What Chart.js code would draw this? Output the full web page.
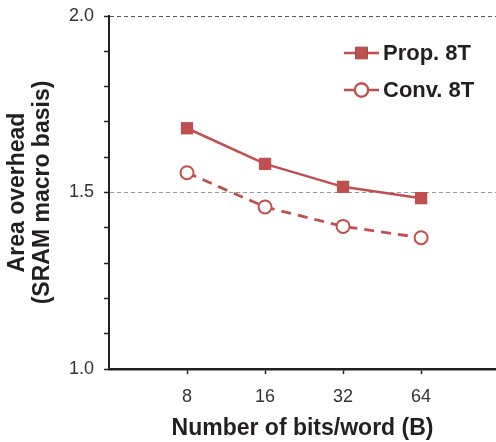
<!DOCTYPE html>
<html>
<head>
<meta charset="utf-8">
<script src="https://cdn.jsdelivr.net/npm/chart.js@4.4.0/dist/chart.umd.min.js"></script>
<style>
  html, body { margin: 0; padding: 0; background: #fff; }
  canvas { display: block; }
</style>
</head>
<body>
<canvas id="area-chart" width="496" height="442"></canvas>
<script>
// bits per word, plotted at evenly spaced slots 1..4
const wordBits = ['8', '16', '32', '64'];
const slots = [1, 2, 3, 4];
const propOverhead = [1.682, 1.581, 1.516, 1.484];
const convOverhead = [1.556, 1.459, 1.404, 1.372];
const yTicks = [1.0, 1.1, 1.2, 1.3, 1.4, 1.5, 1.6, 1.7, 1.8, 1.9, 2.0];
const yTickLabels = { '1.0': '1.0', '1.5': '1.5', '2.0': '2.0' };

const RED = '#c0504d';
const INK = '#231f20';

const toPoints = vals => vals.map((v, i) => ({ x: slots[i], y: v }));

// legend drawn inside the plot, line + marker + bold label
const insideLegend = {
  id: 'insideLegend',
  afterDatasetsDraw(chart) {
    const ctx = chart.ctx;
    const rows = [53, 90];
    chart.data.datasets.forEach((ds, i) => {
      const y = rows[i];
      ctx.save();
      ctx.strokeStyle = ds.borderColor;
      ctx.lineWidth = 2.5;
      ctx.beginPath();
      ctx.moveTo(344, y);
      ctx.lineTo(379, y);
      ctx.stroke();
      Chart.helpers.drawPoint(ctx, {
        pointStyle: ds.pointStyle,
        radius: ds.pointRadius,
        borderWidth: ds.pointBorderWidth
      }, 361.5, y);
      ctx.fillStyle = ds.pointBackgroundColor;
      ctx.strokeStyle = ds.borderColor;
      ctx.lineWidth = ds.pointBorderWidth;
      ctx.setLineDash([]);
      ctx.fill();
      if (ds.pointBorderWidth) ctx.stroke();
      ctx.fillStyle = INK;
      ctx.font = 'bold 22px "Liberation Sans", Arial, sans-serif';
      ctx.textAlign = 'left';
      ctx.textBaseline = 'middle';
      ctx.fillText(ds.label, 383, y + 1);
      ctx.restore();
    });
  }
};

new Chart(document.getElementById('area-chart'), {
  type: 'line',
  data: {
    datasets: [
      {
        label: 'Prop. 8T',
        data: toPoints(propOverhead),
        borderColor: RED,
        backgroundColor: RED,
        borderWidth: 2.5,
        pointStyle: 'rect',
        pointRadius: 8.7,
        pointBackgroundColor: RED,
        pointBorderColor: RED,
        pointBorderWidth: 0,
        tension: 0
      },
      {
        label: 'Conv. 8T',
        data: toPoints(convOverhead),
        borderColor: RED,
        backgroundColor: '#fff',
        borderWidth: 2.8,
        borderDash: [10, 7],
        pointStyle: 'circle',
        pointRadius: 6.5,
        pointBackgroundColor: '#fff',
        pointBorderColor: RED,
        pointBorderWidth: 2,
        tension: 0
      }
    ]
  },
  options: {
    responsive: false,
    animation: false,
    devicePixelRatio: 1,
    layout: { autoPadding: false, padding: { top: 16, right: 0, bottom: 0, left: 0 } },
    plugins: {
      legend: { display: false },
      tooltip: { enabled: false }
    },
    scales: {
      x: {
        type: 'linear',
        min: 0,
        max: 4.96,
        afterBuildTicks: s => { s.ticks = slots.map(v => ({ value: v })); },
        afterFit: s => { s.height = 73; s.paddingLeft = 0; s.paddingRight = 0; },
        ticks: {
          autoSkip: false,
          maxRotation: 0,
          padding: 12,
          color: '#333',
          font: { family: '"Liberation Sans", Arial, sans-serif', size: 18 },
          callback: v => wordBits[slots.indexOf(v)] || ''
        },
        grid: {
          drawOnChartArea: false,
          drawTicks: true,
          tickLength: 5,
          tickColor: '#222',
          tickWidth: 1.5
        },
        border: { display: true, color: INK, width: 2.5 },
        title: {
          display: true,
          text: 'Number of bits/word (B)',
          color: INK,
          padding: { top: 0, bottom: 0 },
          font: { family: '"Liberation Sans", Arial, sans-serif', size: 23, weight: 'bold' }
        }
      },
      y: {
        min: 1.0,
        max: 2.0,
        afterBuildTicks: s => { s.ticks = yTicks.map(v => ({ value: v })); },
        afterFit: s => { s.width = 109; s.paddingTop = 0; s.paddingBottom = 0; },
        ticks: {
          autoSkip: false,
          padding: 10,
          color: '#333',
          font: { family: '"Liberation Sans", Arial, sans-serif', size: 18 },
          callback: v => yTickLabels[v.toFixed(1)] || ''
        },
        grid: {
          drawOnChartArea: true,
          drawTicks: true,
          tickLength: 5,
          tickColor: '#222',
          tickWidth: 1.5,
          lineWidth: 1,
          color: c => {
            const v = c.tick ? c.tick.value : 0;
            if (Math.abs(v - 2.0) < 1e-6) return '#555';
            if (Math.abs(v - 1.5) < 1e-6) return '#9a9a9a';
            return 'rgba(0,0,0,0)';
          }
        },
        border: { display: true, color: INK, width: 2, dash: [4, 3] },
        title: {
          display: true,
          text: ['Area overhead', '(SRAM macro basis)'],
          color: INK,
          padding: { top: 5.5, bottom: 0 },
          font: { family: '"Liberation Sans", Arial, sans-serif', size: 23, weight: 'bold', lineHeight: '25px' }
        }
      }
    }
  },
  plugins: [insideLegend]
});
</script>
</body>
</html>
